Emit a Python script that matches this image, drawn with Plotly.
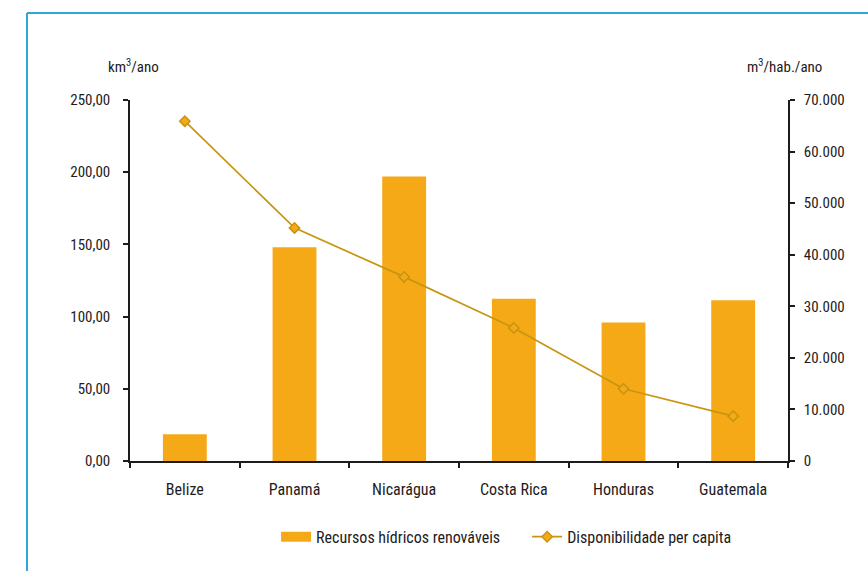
import plotly.graph_objects as go

# Renewable water resources and per-capita availability, Central America
paises = ["Belize", "Panamá", "Nicarágua", "Costa Rica", "Honduras", "Guatemala"]
recursos_km3 = [18.6, 148.0, 197.0, 112.4, 95.9, 111.3]          # km³/ano
disponibilidade = [65900, 45200, 35700, 25800, 14000, 8700]       # m³/hab./ano

y_ticks_left = [0, 50, 100, 150, 200, 250]
y_ticks_right = [0, 10000, 20000, 30000, 40000, 50000, 60000, 70000]

BAR = "#F6A917"
LINE = "#C7950F"
INK = "#1E1B1C"
FONT = "Liberation Sans Narrow, Roboto Condensed, Arial Narrow, Liberation Sans, sans-serif"

fig = go.Figure()

fig.add_trace(go.Bar(
    x=paises, y=recursos_km3, name="Recursos hídricos renováveis",
    marker=dict(color=BAR, line=dict(width=0)), width=0.4,
    xaxis="x", yaxis="y", showlegend=False,
))
# legend swatch for the bars, drawn as a wide flat band
fig.add_trace(go.Scatter(
    x=[None], y=[None], name="Recursos hídricos renováveis" + "\u00a0" * 6,
    mode="lines", line=dict(color=BAR, width=10), xaxis="x", yaxis="y",
))
fig.add_trace(go.Scatter(
    x=paises, y=disponibilidade, name="Disponibilidade per capita",
    mode="lines+markers",
    line=dict(color=LINE, width=1.7),
    marker=dict(symbol="diamond", size=8, color=BAR, line=dict(color=LINE, width=1.5)),
    xaxis="x", yaxis="y2",
))

axis_common = dict(showgrid=False, zeroline=False, linecolor=INK, linewidth=1.5,
                   tickcolor=INK, tickwidth=1.5, ticklen=5,
                   tickfont=dict(family=FONT, size=15, color=INK))

fig.update_layout(
    width=868, height=571,
    margin=dict(l=130, r=80, t=100, b=110),
    paper_bgcolor="white", plot_bgcolor="white",
    separators=",.",
    font=dict(family=FONT, size=15, color=INK),
    showlegend=True,
    legend=dict(orientation="h", x=0.222, xanchor="left", y=-0.21, yanchor="middle",
                font=dict(family=FONT, size=16, color=INK), itemwidth=30,
                tracegroupgap=0, bgcolor="rgba(0,0,0,0)"),
    xaxis=dict(axis_common, type="category", range=[-0.5, 5.5], showline=True,
               ticks="outside", tickson="boundaries", ticklabelstandoff=13,
               tickfont=dict(family=FONT, size=16, color=INK)),
    xaxis2=dict(axis_common, overlaying="x", anchor="y", range=[-0.5, 5.5],
                tickvals=[-0.5, 0.5, 1.5, 2.5, 3.5, 4.5, 5.5], ticks="inside",
                showticklabels=False, showline=False, side="bottom"),
    yaxis=dict(axis_common, range=[0, 250], tickvals=y_ticks_left, tickformat=",.2f",
               ticks="outside", showline=True, ticklabelstandoff=10),
    yaxis2=dict(axis_common, range=[0, 70000], tickvals=y_ticks_right, tickformat=",d",
                ticks="outside", showline=True, overlaying="y", side="right",
                anchor="x", ticklabelstandoff=6),
    yaxis3=dict(axis_common, range=[0, 250], tickvals=y_ticks_left, ticks="inside",
                showticklabels=False, showline=False, overlaying="y", side="left"),
    yaxis4=dict(axis_common, range=[0, 70000], tickvals=y_ticks_right, ticks="inside",
                showticklabels=False, showline=False, overlaying="y", side="right",
                anchor="x"),
    bargap=0.6,
)

# Axis unit captions
fig.add_annotation(text="km<sup>3</sup>/ano", xref="paper", yref="paper",
                   x=0.005, y=(461 - 66) / 361, xanchor="center", yanchor="middle",
                   showarrow=False, font=dict(family=FONT, size=15, color=INK))
fig.add_annotation(text="m<sup>3</sup>/hab./ano", xref="paper", yref="paper",
                   x=0.995, y=(461 - 66) / 361, xanchor="center", yanchor="middle",
                   showarrow=False, font=dict(family=FONT, size=15, color=INK))

# Blue frame along the top and left of the panel
frame = dict(color="#2BA6DF", width=2)
fig.add_shape(type="line", xref="paper", yref="paper",
              x0=(27 - 130) / 658, x1=(870 - 130) / 658,
              y0=(461 - 13) / 361, y1=(461 - 13) / 361, line=frame)
fig.add_shape(type="line", xref="paper", yref="paper",
              x0=(27 - 130) / 658, x1=(27 - 130) / 658,
              y0=(461 - 13) / 361, y1=(461 - 575) / 361, line=frame)

fig.write_html("out.html")
